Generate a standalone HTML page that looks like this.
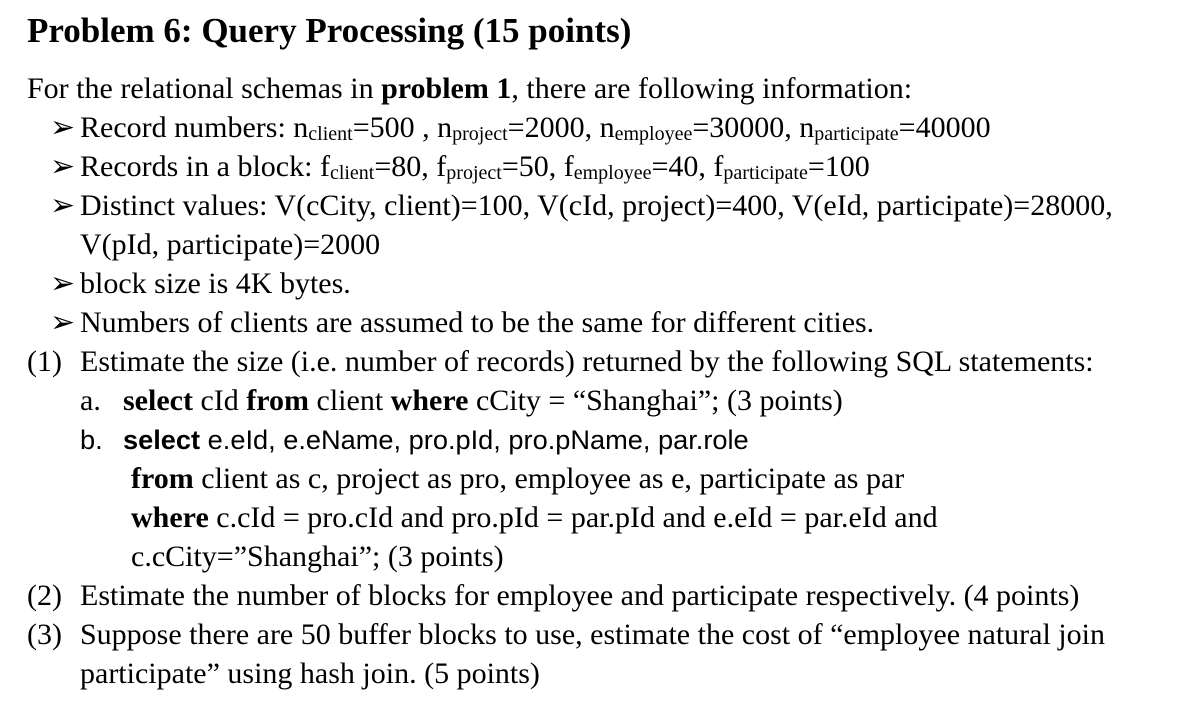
<!DOCTYPE html>
<html><head><meta charset="utf-8"><style>
body{margin:0;width:1195px;height:702px;background:#fff;position:relative;overflow:hidden;font-family:"Liberation Serif",serif;color:#000;}
.l{position:absolute;white-space:nowrap;font-size:30px;line-height:39px;}
sub{font-size:20px;vertical-align:-3px;line-height:0;}
.s{font-family:"Liberation Sans",sans-serif;font-size:27.2px;}
b{font-weight:bold;}
</style></head><body>
<div class="l" style="left:27px;top:11px;font-size:35px;font-weight:bold;">Problem 6: Query Processing (15 points)</div>
<div class="l" style="left:27px;top:69px;">For the relational schemas in <b>problem 1</b>, there are following information:</div>
<div class="l" style="left:50px;top:108px;">➢</div>
<div class="l" style="left:80px;top:108px;">Record numbers: n<sub>client</sub>=500 , n<sub>project</sub>=2000, n<sub>employee</sub>=30000, n<sub>participate</sub>=40000</div>
<div class="l" style="left:50px;top:147px;">➢</div>
<div class="l" style="left:80px;top:147px;">Records in a block: f<sub>client</sub>=80, f<sub>project</sub>=50, f<sub>employee</sub>=40, f<sub>participate</sub>=100</div>
<div class="l" style="left:50px;top:186px;">➢</div>
<div class="l" style="left:80px;top:186px;">Distinct values: V(cCity, client)=100, V(cId, project)=400, V(eId, participate)=28000,</div>
<div class="l" style="left:80px;top:225px;">V(pId, participate)=2000</div>
<div class="l" style="left:50px;top:264px;">➢</div>
<div class="l" style="left:80px;top:264px;">block size is 4K bytes.</div>
<div class="l" style="left:50px;top:303px;">➢</div>
<div class="l" style="left:80px;top:303px;">Numbers of clients are assumed to be the same for different cities.</div>
<div class="l" style="left:27px;top:342px;">(1)</div>
<div class="l" style="left:80px;top:342px;">Estimate the size (i.e. number of records) returned by the following SQL statements:</div>
<div class="l" style="left:80px;top:381px;">a.</div>
<div class="l" style="left:123px;top:381px;"><b>select</b> cId <b>from</b> client <b>where</b> cCity = “Shanghai”; (3 points)</div>
<div class="l s" style="left:80px;top:420px;">b.</div>
<div class="l s" style="left:123px;top:420px;"><b>select</b> e.eId, e.eName, pro.pId, pro.pName, par.role</div>
<div class="l" style="left:131px;top:459px;"><b>from</b> client as c, project as pro, employee as e, participate as par</div>
<div class="l" style="left:131px;top:498px;"><b>where</b> c.cId = pro.cId and pro.pId = par.pId and e.eId = par.eId and</div>
<div class="l" style="left:131px;top:537px;">c.cCity=”Shanghai”; (3 points)</div>
<div class="l" style="left:27px;top:576px;">(2)</div>
<div class="l" style="left:80px;top:576px;">Estimate the number of blocks for employee and participate respectively. (4 points)</div>
<div class="l" style="left:27px;top:615px;">(3)</div>
<div class="l" style="left:80px;top:615px;">Suppose there are 50 buffer blocks to use, estimate the cost of “employee natural join</div>
<div class="l" style="left:80px;top:654px;">participate” using hash join. (5 points)</div>
</body></html>
